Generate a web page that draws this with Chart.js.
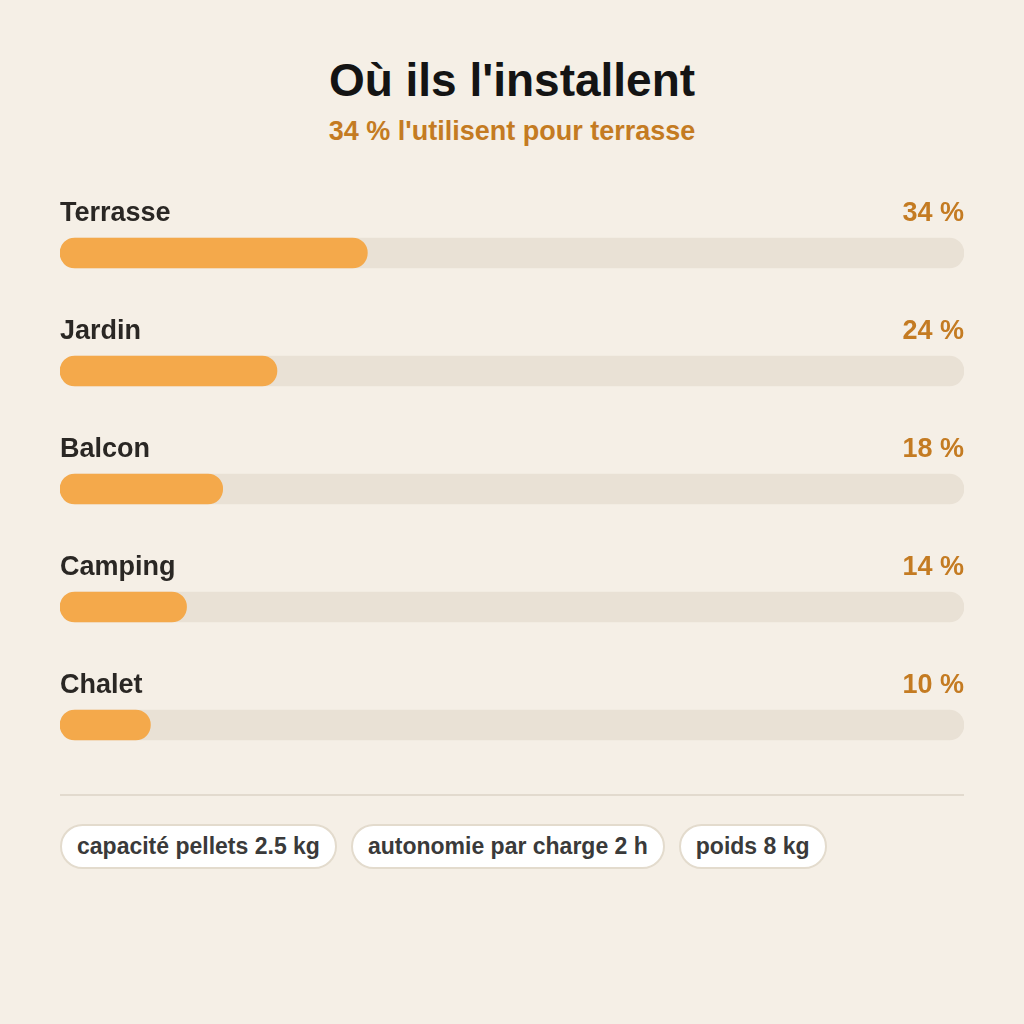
<!DOCTYPE html>
<html lang="fr">
<head>
<meta charset="utf-8">
<script src="https://cdn.jsdelivr.net/npm/chart.js@4"></script>
<style>
  html, body { margin: 0; padding: 0; }
  body {
    width: 1024px; height: 1024px; background: #f5efe6;
    font-family: "Liberation Sans", Arial, sans-serif; position: relative; overflow: hidden;
  }
  h1 {
    position: absolute; top: 52px; left: 0; width: 1024px; margin: 0;
    text-align: center; font-size: 46px; font-weight: 700; color: #141414; line-height: 56px;
  }
  .sub {
    position: absolute; top: 115px; left: 0; width: 1024px;
    text-align: center; font-size: 27px; font-weight: 700; color: #c47b22; line-height: 32px;
  }
  #wrap { position: absolute; left: 60px; top: 170px; width: 904px; height: 614px; }
  .rule { position: absolute; left: 60px; top: 794px; width: 904px; height: 2px; background: #e2dace; }
  .chips { position: absolute; left: 60px; top: 824px; display: flex; gap: 14px; }
  .chip {
    background: #fff; border: 2px solid #e3dbcd; border-radius: 23px;
    height: 41px; line-height: 41px; padding: 0 15px;
    font-size: 23px; font-weight: 700; color: #3a3a3a;
  }
</style>
</head>
<body>
<h1 id="title"></h1>
<div class="sub" id="subtitle"></div>
<div id="wrap"><canvas id="chart"></canvas></div>
<div class="rule"></div>
<div class="chips" id="chips"></div>

<script>
// --- Données ---
const TITLE = "Où ils l'installent";
const SUBTITLE = "34 % l'utilisent pour terrasse";
const categories = ['Terrasse', 'Jardin', 'Balcon', 'Camping', 'Chalet'];
const shares = [34, 24, 18, 14, 10];
const scaleMax = 100;
const chips = ['capacité pellets 2.5 kg', 'autonomie par charge 2 h', 'poids 8 kg'];

const $ = (id) => document.getElementById(id);
$('title').textContent = TITLE;
$('subtitle').textContent = SUBTITLE;
chips.forEach(t => {
  const d = document.createElement('div');
  d.className = 'chip';
  d.textContent = t;
  $('chips').appendChild(d);
});

// --- Labels au-dessus des barres ---
const rowLabels = {
  id: 'rowLabels',
  afterDatasetsDraw(chart) {
    const { ctx, chartArea } = chart;
    const meta = chart.getDatasetMeta(1);
    ctx.save();
    ctx.font = '700 27px "Liberation Sans", Arial, sans-serif';
    ctx.textBaseline = 'middle';
    meta.data.forEach((bar, i) => {
      const y = bar.y - 39;
      ctx.textAlign = 'left';
      ctx.fillStyle = '#2a2724';
      ctx.fillText(categories[i], chartArea.left, y);
      ctx.textAlign = 'right';
      ctx.fillStyle = '#c47b22';
      ctx.fillText(`${shares[i]} %`, chartArea.right, y);
    });
    ctx.restore();
  }
};

new Chart($('chart'), {
  type: 'bar',
  data: {
    labels: categories,
    datasets: [
      {
        label: 'fond',
        data: categories.map(() => scaleMax),
        backgroundColor: '#e9e1d5',
        order: 2
      },
      {
        label: 'part',
        data: shares,
        backgroundColor: '#f4a94b',
        order: 1
      }
    ]
  },
  options: {
    indexAxis: 'y',
    responsive: true,
    maintainAspectRatio: false,
    animation: false,
    layout: { padding: { top: 24, bottom: 0, left: 0, right: 0 } },
    datasets: {
      bar: { grouped: false, barThickness: 30, borderRadius: 15, borderSkipped: false }
    },
    plugins: { legend: { display: false }, tooltip: { enabled: false } },
    scales: {
      x: { display: false, min: 0, max: scaleMax },
      y: { display: false }
    }
  },
  plugins: [rowLabels]
});
</script>
</body>
</html>
